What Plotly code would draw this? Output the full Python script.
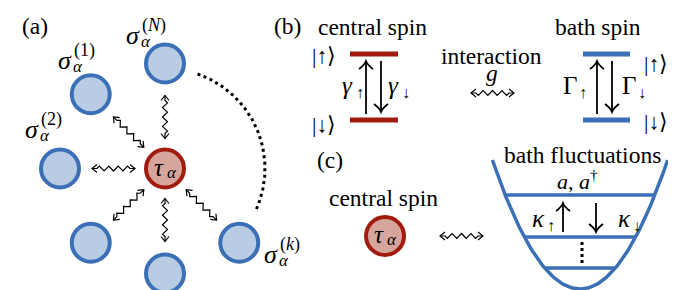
import numpy as np
import plotly.graph_objects as go

W, H = 676, 290
SERIF = "Liberation Serif"
FS = 23.5

# ---------- colours ----------
BLUE_EDGE, BLUE_FILL = "#3b6fb6", "#b8cce4"
RED_EDGE, RED_FILL = "#a11b0e", "#d6a59c"

# ---------- panel (a): central spin + bath spins ----------
hub_a = (157, 160.5)
bath_angles_deg = [-90, -135, 180, 135, 90, 45]
bath_ring_radius = 105
spin_radius = 19
link_inner, link_outer = 30, 73
bath_sup = ["(N)", "(1)", "(2)", "(k)"]
bath_label_xy = [(125, 27), (57, 52), (24, 121), (263, 246)]
arc_angles_deg = (-71, 24)
arc_radius = 100

# ---------- panel (b): two-level systems ----------
central_levels_y = [46, 112]
central_bar_x = (342, 390)
bath_levels_y = [46, 112]
bath_bar_x = (575, 622)
central_arrow_x = (358, 373)
bath_arrow_x = (589, 604)
arrow_span_b = (53, 106)
ket_labels = ["|↑⟩", "|↓⟩", "|↑⟩", "|↓⟩"]
ket_xy = [(302, 47, "left"), (302, 116, "left"), (662, 55, "right"), (662, 113, "right")]

# ---------- panel (c): oscillator ----------
hub_c = (377, 228)
well_center_x, well_bottom_y, well_curv = 572, 281, 0.0168
well_top_y = 152
osc_levels_y = [187, 229, 260]
osc_arrow_x = (555, 588)
osc_arrow_span = (195, 224)

fig = go.Figure()
shapes = []
ann = []

def circle(cx, cy, r, edge, fill, lw=4):
    shapes.append(dict(type="circle", xref="x", yref="y", x0=cx - r, x1=cx + r,
                       y0=cy - r, y1=cy + r, line=dict(color=edge, width=lw),
                       fillcolor=fill, layer="above"))

def text(x, y, s, size=FS, xanchor="center", family=SERIF):
    ann.append(dict(x=x, y=y, xref="x", yref="y", text=s, showarrow=False,
                    xanchor=xanchor, yanchor="middle",
                    font=dict(family=family, size=size, color="#000000")))

zx, zy = [], []

def seg(pts):
    for p in pts:
        zx.append(p[0]); zy.append(p[1])
    zx.append(None); zy.append(None)

def vhead(tip, d, length=5, w=4):
    d = np.asarray(d, float); n = np.array([-d[1], d[0]])
    t = np.asarray(tip, float)
    seg([t - d * length + n * w, t, t - d * length - n * w])

def wavy(p0, p1, amp=2.5, half=5.0, straight=5.0):
    p0 = np.asarray(p0, float); p1 = np.asarray(p1, float)
    L = np.linalg.norm(p1 - p0); d = (p1 - p0) / L; n = np.array([-d[1], d[0]])
    m = max(1, int(round((L - 2 * straight) / half)))
    h = (L - 2 * straight) / m
    pts = [p0, p0 + d * straight]
    for k in range(m):
        pts.append(p0 + d * (straight + (k + 0.5) * h) + n * amp * (1 if k % 2 == 0 else -1))
    pts += [p0 + d * (L - straight), p1]
    seg(pts)
    vhead(p1, d); vhead(p0, -d)

# panel (a)
cx, cy = hub_a
for a in bath_angles_deg:
    t = np.deg2rad(a); d = np.array([np.cos(t), np.sin(t)])
    circle(cx + bath_ring_radius * d[0], cy + bath_ring_radius * d[1], spin_radius, BLUE_EDGE, BLUE_FILL)
    wavy((cx + link_inner * d[0], cy + link_inner * d[1]), (cx + link_outer * d[0], cy + link_outer * d[1]))
circle(cx, cy, spin_radius, RED_EDGE, RED_FILL)
text(151, 159, "<i>τ</i>", 25)
text(157, 164, "<i>α</i>", 17, "left")

th = np.linspace(np.deg2rad(arc_angles_deg[0]), np.deg2rad(arc_angles_deg[1]), 80)
fig.add_trace(go.Scatter(x=cx + arc_radius * np.cos(th), y=cy + arc_radius * np.sin(th), mode="lines",
                         line=dict(color="black", width=3, dash="3px,3.5px"), hoverinfo="skip"))

for sup, (sx, sy) in zip(bath_sup, bath_label_xy):
    text(sx, sy, "<i>σ</i>", 26)
    text(sx + 7, sy - 10, sup.replace("N", "<i>N</i>").replace("k", "<i>k</i>"), 18, "left")
    text(sx + 6, sy + 6, "<i>α</i>", 17, "left")

text(27, 18, "(a)")

# panel (b)
text(279, 18, "(b)")
text(364, 19, "central spin")
text(590, 19, "bath spin")
text(483, 48, "interaction")
text(484, 65, "<i>g</i>")
wavy((463, 85), (506, 85))
for y in central_levels_y:
    shapes.append(dict(type="line", xref="x", yref="y", x0=central_bar_x[0], x1=central_bar_x[1], y0=y, y1=y,
                       line=dict(color=RED_EDGE, width=5)))
for y in bath_levels_y:
    shapes.append(dict(type="line", xref="x", yref="y", x0=bath_bar_x[0], x1=bath_bar_x[1], y0=y, y1=y,
                       line=dict(color=BLUE_EDGE, width=5)))
for s, (x, y, anc) in zip(ket_labels, ket_xy):
    text(x, y, s, 22, anc)

sx_, sy_ = [], []
def straight_arrow(x, y_from, y_to):
    sx_.extend([x, x, None]); sy_.extend([y_from, y_to, None])
    s = 1 if y_to > y_from else -1
    shapes.append(dict(type="path", xref="x", yref="y",
                       path=f"M {x-7},{y_to - s*8} Q {x-1.5},{y_to - s*4} {x},{y_to} Q {x+1.5},{y_to - s*4} {x+7},{y_to - s*8}",
                       line=dict(color="black", width=1.8)))

straight_arrow(central_arrow_x[0], arrow_span_b[1], arrow_span_b[0])
straight_arrow(central_arrow_x[1], arrow_span_b[0], arrow_span_b[1] - 2)
straight_arrow(bath_arrow_x[0], arrow_span_b[1], arrow_span_b[0])
straight_arrow(bath_arrow_x[1], arrow_span_b[0], arrow_span_b[1] - 2)

rate_labels = [("<i>γ</i>", "↑", 339, 77), ("<i>γ</i>", "↓", 385, 77),
               ("Γ", "↑", 562, 77), ("Γ", "↓", 621, 77),
               ("<i>κ</i>", "↑", 530, 210), ("<i>κ</i>", "↓", 616, 210)]
for main, sub, x, y in rate_labels:
    text(x, y, main, 25)
    text(x + 7, y + 7, sub, 16, "left")

# panel (c)
text(322, 152, "(c)")
text(375, 190, "central spin")
circle(hub_c[0], hub_c[1], spin_radius, RED_EDGE, RED_FILL)
text(371, 226, "<i>τ</i>", 25)
text(377, 231, "<i>α</i>", 17, "left")
wavy((432, 228), (475, 228))
text(574, 147, "bath fluctuations")
text(569, 172, "<i>a</i>, <i>a</i><sup>†</sup>", 22)

half_top = np.sqrt((well_bottom_y - well_top_y) / well_curv)
px = np.linspace(well_center_x - half_top, well_center_x + half_top, 121)
fig.add_trace(go.Scatter(x=px, y=well_bottom_y - well_curv * (px - well_center_x) ** 2, mode="lines",
                         line=dict(color=BLUE_EDGE, width=3.5), hoverinfo="skip"))
for y in osc_levels_y:
    hw = np.sqrt((well_bottom_y - y) / well_curv)
    shapes.append(dict(type="line", xref="x", yref="y", x0=well_center_x - hw, x1=well_center_x + hw,
                       y0=y, y1=y, line=dict(color=BLUE_EDGE, width=3.5)))
straight_arrow(osc_arrow_x[0], osc_arrow_span[1], osc_arrow_span[0])
straight_arrow(osc_arrow_x[1], osc_arrow_span[0], osc_arrow_span[1])
fig.add_trace(go.Scatter(x=[574, 574], y=[234, 256], mode="lines",
                         line=dict(color="black", width=3, dash="3px,3px"), hoverinfo="skip"))

fig.add_trace(go.Scatter(x=sx_, y=sy_, mode="lines", line=dict(color="black", width=1.8), hoverinfo="skip"))
fig.add_trace(go.Scatter(x=zx, y=zy, mode="lines", line=dict(color="black", width=1.2), hoverinfo="skip"))

fig.update_layout(width=W, height=H, margin=dict(l=0, r=0, t=0, b=0),
                  paper_bgcolor="white", plot_bgcolor="white", showlegend=False,
                  font=dict(family=SERIF),
                  shapes=shapes, annotations=ann,
                  xaxis=dict(range=[0, W], visible=False, fixedrange=True),
                  yaxis=dict(range=[H, 0], visible=False, fixedrange=True))
fig.write_html("out.html")
